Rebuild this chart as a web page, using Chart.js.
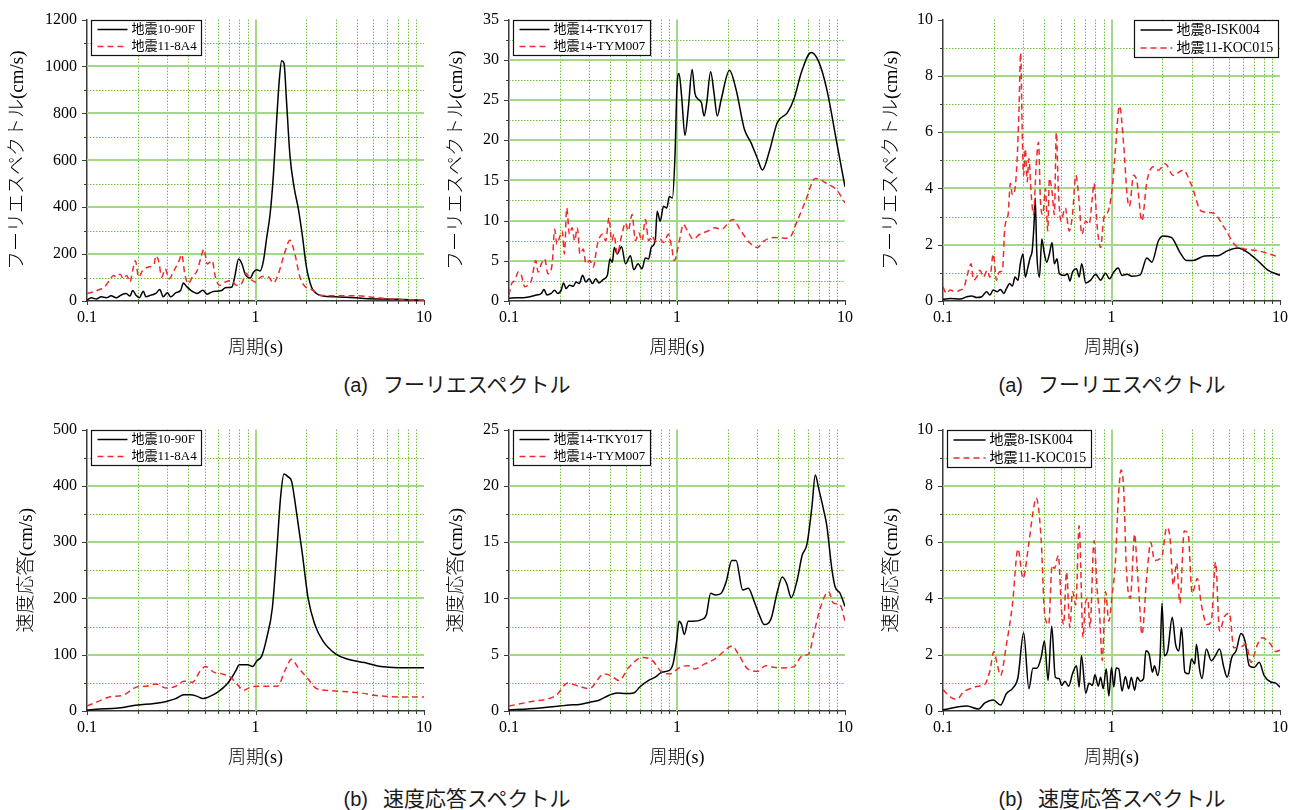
<!DOCTYPE html>
<html lang="ja">
<head>
<meta charset="utf-8">
<title>フーリエスペクトル・速度応答スペクトル</title>
<script src="https://cdn.jsdelivr.net/npm/chart.js@4.4.1/dist/chart.umd.min.js"></script>
<style>
  html, body { margin: 0; padding: 0; background: #fff; }
  #page { position: relative; width: 1301px; height: 810px; overflow: hidden; }
  canvas { position: absolute; }
  .caption {
    position: absolute;
    font-family: 'Noto Sans CJK JP', sans-serif;
    font-size: 21px;
    color: #1a1a1a;
    white-space: nowrap;
    transform: translate(-50%, -50%);
  }
  .caption span { font-family: 'Liberation Sans', sans-serif; font-size: 20px; margin-right: 15px; }
</style>
</head>
<body>
<div id="page">
  <canvas id="fas1" width="432" height="359" style="left:7px;top:0px"></canvas>
  <canvas id="fas2" width="414" height="359" style="left:446px;top:0px"></canvas>
  <canvas id="fas3" width="414" height="359" style="left:881px;top:0px"></canvas>
  <canvas id="sv1" width="423" height="359" style="left:16px;top:410px"></canvas>
  <canvas id="sv2" width="414" height="359" style="left:446px;top:410px"></canvas>
  <canvas id="sv3" width="414" height="359" style="left:881px;top:410px"></canvas>
  <div class="caption" style="left:457px;top:383px"><span>(a)</span>フーリエスペクトル</div>
  <div class="caption" style="left:1112px;top:383px"><span>(a)</span>フーリエスペクトル</div>
  <div class="caption" style="left:457px;top:797px"><span>(b)</span>速度応答スペクトル</div>
  <div class="caption" style="left:1112px;top:797px"><span>(b)</span>速度応答スペクトル</div>
</div>
<script>
// ---- period axis ----
const periodTicks = [0.1, 1, 10];
const minorPeriods = [0.2, 0.3, 0.4, 0.5, 0.6, 0.7, 0.8, 0.9, 2, 3, 4, 5, 6, 7, 8, 9];

// ---- Fourier spectra (cm/s) ----
const fasT_90F = [0.1,0.106,0.1135,0.1215,0.13,0.139,0.149,0.159,0.1705,0.18,0.1867,0.1953,0.2044,0.2158,0.2237,0.2395,0.2563,0.2705,0.283,0.3,0.314,0.336,0.36,0.373,0.389,0.412,0.451,0.487,0.517,0.553,0.592,0.633,0.662,0.725,0.752,0.794,0.831,0.869,0.93,0.973,1.018,1.065,1.115,1.166,1.22,1.277,1.336,1.385,1.43,1.476,1.53,1.601,1.698,1.792,1.892,2.007,2.148,2.299,2.516,3.0,4.43,6.96,10];
const fas_90F = [4,14,8,18,14,22,14,25,32,21,45,25,14,42,18,25,32,49,18,35,18,35,46,77,63,46,32,46,29,39,42,46,57,60,102,179,158,114,98,123,133,128,172,271,369,537,775,944,1025,1014,845,621,481,397,285,144,60,32,21,18,11,7,3];

const fasT_8A4 = [0.1,0.1085,0.1188,0.1271,0.136,0.1436,0.1503,0.1572,0.1645,0.172,0.18,0.1867,0.1936,0.2026,0.2138,0.2289,0.2395,0.2506,0.2563,0.2658,0.278,0.291,0.307,0.3286,0.352,0.3646,0.3816,0.399,0.4215,0.451,0.472,0.494,0.517,0.553,0.578,0.611,0.662,0.725,0.766,0.831,0.877,0.93,1.0,1.09,1.193,1.277,1.367,1.482,1.601,1.713,1.834,1.962,2.197,2.405,3.0,4.05,5.07,6.96,10];
const fas_8A4 = [32,39,49,60,88,109,102,114,95,109,81,130,172,102,130,144,147,158,193,172,102,137,95,130,172,198,109,74,102,130,179,221,158,172,102,67,81,88,67,77,119,95,81,105,102,77,116,200,259,200,102,63,46,25,22,22,15,7,3];

const fasT_TKY017 = [0.1,0.111,0.1215,0.133,0.1456,0.1558,0.1616,0.1683,0.1784,0.1867,0.1953,0.2044,0.211,0.2188,0.2289,0.2416,0.2506,0.262,0.2742,0.287,0.3,0.314,0.3286,0.3439,0.363,0.385,0.399,0.412,0.4234,0.441,0.4677,0.494,0.528,0.553,0.5865,0.619,0.648,0.678,0.703,0.742,0.762,0.794,0.831,0.869,0.901,0.939,0.973,1.0,1.028,1.065,1.115,1.166,1.231,1.277,1.336,1.398,1.449,1.503,1.586,1.66,1.737,1.834,2.053,2.247,2.516,2.755,3.015,3.227,3.533,3.956,4.532,4.961,5.554,6.277,6.963,7.797,8.932,10];
const fas_TKY017 = [0.33,0.4,0.4,0.53,0.74,0.94,1.43,0.74,0.94,1.35,0.94,1.35,2.25,1.55,1.96,1.84,2.37,2.17,3.19,2.37,2.78,2.17,2.78,2.25,2.66,3.19,5.23,4.82,6.66,5.85,6.75,4.62,5.64,3.88,4.62,4.0,5.36,5.23,6.66,7.48,11.16,9.93,11.77,11.57,13.0,12.8,18.1,26.7,28.3,25.5,20.6,23.8,28.8,25.9,25.1,24.65,23.0,24.65,28.5,25.9,23.0,25.1,28.7,26.3,21.4,19.7,17.7,16.3,18.5,22.2,23.4,25.1,28.7,30.9,29.8,26.3,19.7,14.2];

const fasT_TYM007 = [0.1,0.1037,0.1085,0.1135,0.1172,0.1243,0.13,0.136,0.1443,0.149,0.1558,0.163,0.1705,0.1808,0.1867,0.1927,0.1998,0.2072,0.2138,0.2207,0.2289,0.2373,0.246,0.2551,0.2645,0.2767,0.287,0.3029,0.317,0.336,0.36,0.3763,0.394,0.4083,0.4215,0.441,0.4677,0.494,0.512,0.5405,0.5655,0.592,0.619,0.648,0.678,0.709,0.742,0.794,0.831,0.889,0.93,0.964,1.009,1.042,1.09,1.156,1.248,1.367,1.53,1.675,1.834,2.148,2.405,2.694,3.015,3.301,3.781,4.634,5.19,5.81,6.656,7.797,8.932,10];
const fas_TYM007 = [0.74,2.17,2.58,3.6,3.48,1.76,1.96,2.58,5.03,3.6,4.62,5.23,3.39,4.62,8.91,7.07,7.89,8.71,5.85,11.57,8.3,9.12,7.48,9.12,5.85,6.46,4.62,5.03,4.21,7.07,8.3,7.48,10.34,7.48,8.3,5.85,8.1,9.73,8.71,10.75,7.48,8.5,7.48,10.14,7.48,8.1,7.48,7.69,7.28,8.3,6.66,5.03,6.46,7.89,9.53,8.71,7.69,8.3,8.71,9.12,8.91,10.14,8.71,7.28,6.66,7.48,7.89,7.81,9.93,12.4,15.25,14.6,13.8,12.2];

const fasT_ISK004 = [0.1,0.1104,0.1265,0.1384,0.1481,0.1585,0.1696,0.1815,0.1899,0.1986,0.2097,0.2194,0.2295,0.238,0.249,0.2581,0.2676,0.2787,0.2876,0.2982,0.3078,0.319,0.3294,0.3384,0.3477,0.3525,0.3605,0.3737,0.3857,0.3999,0.4128,0.428,0.4437,0.458,0.4748,0.49,0.5245,0.5486,0.5662,0.587,0.6197,0.6424,0.6661,0.7032,0.7524,0.8052,0.8615,0.922,0.973,1.032,1.094,1.155,1.237,1.323,1.481,1.621,1.735,1.899,2.032,2.275,2.546,2.787,3.05,3.573,4.28,4.9,5.61,6.424,7.356,8.425,10];
const fas_ISK004 = [0.06,0.09,0.07,0.15,0.18,0.12,0.15,0.33,0.21,0.39,0.33,0.41,0.27,0.44,0.62,0.53,0.85,0.74,1.32,1.67,0.85,1.2,1.55,1.79,2.84,3.66,1.67,0.85,2.2,1.67,1.38,1.67,2.08,1.32,1.5,0.97,0.91,0.97,0.71,1.03,1.15,0.85,1.32,0.64,0.74,0.95,0.74,0.99,0.79,1.03,1.17,0.91,0.95,0.88,0.93,1.53,1.38,2.14,2.31,2.25,1.73,1.44,1.44,1.6,1.61,1.79,1.88,1.73,1.44,1.11,0.91];

const fasT_KOC015 = [0.1,0.1046,0.1104,0.1182,0.1265,0.1335,0.1384,0.1468,0.1515,0.1585,0.1658,0.1735,0.1831,0.1899,0.1986,0.2078,0.2154,0.2254,0.2326,0.2434,0.2512,0.2581,0.2676,0.2749,0.2825,0.2889,0.2955,0.3009,0.3078,0.3162,0.3235,0.3339,0.3446,0.3572,0.3688,0.3788,0.3911,0.4054,0.4184,0.428,0.4437,0.458,0.4706,0.4835,0.5012,0.5314,0.5612,0.587,0.6141,0.6424,0.6661,0.7032,0.7356,0.7697,0.7873,0.8236,0.8615,0.9012,0.9559,1.009,1.056,1.115,1.182,1.237,1.276,1.353,1.416,1.515,1.621,1.774,1.899,2.078,2.326,2.664,2.982,3.415,3.999,4.684,5.362,6.141,7.356,10];
const fas_KOC015 = [0.5,0.27,0.39,0.33,0.39,0.5,0.85,1.32,0.74,0.85,1.09,0.85,1.09,0.85,1.67,0.74,1.03,1.09,2.6,3.07,4.18,3.77,4.0,4.94,6.81,8.82,5.88,4.47,5.41,4.24,5.06,3.77,3.07,4.82,5.64,3.54,3.07,4.0,2.49,4.36,3.89,3.07,5.99,4.0,2.84,3.31,2.49,3.07,4.47,3.54,2.37,2.84,2.72,3.66,4.18,2.6,1.9,2.96,3.19,4.0,5.41,6.93,5.53,3.77,3.36,4.47,4.24,2.84,4.24,4.77,4.65,4.88,4.47,4.65,4.12,3.19,3.13,2.6,2.02,1.85,1.79,1.55];

// ---- velocity response spectra (cm/s) ----
const svT_90F = [0.1,0.1188,0.149,0.1998,0.2506,0.3,0.336,0.3763,0.412,0.451,0.487,0.528,0.5998,0.678,0.725,0.766,0.801,0.85,0.901,0.96,1.018,1.09,1.166,1.259,1.336,1.41,1.476,1.565,1.638,1.753,1.892,2.053,2.247,2.516,3.0,3.533,4.43,5.554,6.96,10];
const sv_90F = [1.8,3.5,4.7,10.5,13.4,17.5,22,29,29,26,22,25,34,48,60,72,82,82,82,79,89,98,130,183,282,381,421,416,408,352,282,200,154,124,101,92,86,79,77,77];

const svT_8A4 = [0.1,0.1188,0.136,0.163,0.1998,0.2237,0.2563,0.2935,0.336,0.3763,0.4215,0.472,0.505,0.5655,0.633,0.709,0.776,0.85,0.951,1.09,1.22,1.354,1.496,1.638,1.792,2.053,2.299,2.818,3.533,4.234,5.07,6.96,10];
const sv_8A4 = [9,18,25,28,43,44,48,41,44,53,51,72,79,69,66,60,48,37,43,44,44,44,72,92,77,57,40,36,34,32,28,25,25];

const svT_TKY017 = [0.1,0.133,0.1998,0.2289,0.262,0.3,0.3439,0.394,0.441,0.494,0.553,0.5998,0.678,0.742,0.812,0.901,0.951,0.995,1.028,1.065,1.105,1.166,1.248,1.398,1.496,1.586,1.69,1.834,1.962,2.119,2.247,2.46,2.657,2.882,3.085,3.301,3.614,3.956,4.234,4.491,4.784,5.19,5.554,5.944,6.361,6.656,6.963,7.451,7.797,8.344,8.732,9.344,10];
const sv_TKY017 = [0.09,0.2,0.44,0.53,0.58,0.76,0.96,1.4,1.6,1.55,1.6,2.13,2.72,3.0,3.45,3.6,4.3,6.22,7.97,7.68,6.8,7.97,7.97,8.12,8.56,10.46,10.3,10.46,11.48,13.38,13.38,10.75,10.9,9.73,8.56,7.68,8.12,10.6,11.9,11.33,10.07,11.62,13.81,14.84,18.2,20.97,19.8,17.9,16.44,12.65,11.04,10.46,9.29];

const svT_TYM007 = [0.1,0.133,0.191,0.2237,0.2506,0.3,0.368,0.403,0.451,0.517,0.619,0.709,0.812,0.909,1.042,1.166,1.277,1.462,1.675,1.918,2.119,2.351,2.633,3.015,3.376,3.781,4.234,4.961,5.554,6.08,6.507,7.123,7.977,8.536,9.344,10];
const sv_TYM007 = [0.44,0.82,1.4,2.48,2.28,1.99,3.3,3.15,2.72,3.88,4.76,4.53,3.45,3.3,3.88,4.03,3.74,4.18,4.61,5.34,5.78,4.9,3.74,3.53,4.03,3.88,3.83,3.94,4.9,5.05,6.8,9.14,10.6,9.58,9.43,7.97];

const svT_ISK004 = [0.1,0.1384,0.1621,0.1774,0.1986,0.2194,0.238,0.2604,0.2787,0.3009,0.3235,0.3415,0.3605,0.3823,0.3999,0.4203,0.4418,0.4642,0.49,0.5057,0.5291,0.5563,0.587,0.6197,0.6424,0.6631,0.7032,0.7356,0.7697,0.798,0.8351,0.8615,0.8932,0.93,0.9645,1.0,1.032,1.065,1.104,1.155,1.209,1.265,1.311,1.372,1.422,1.481,1.549,1.599,1.673,1.751,1.799,1.882,1.942,1.995,2.059,2.154,2.295,2.401,2.512,2.604,2.725,2.876,2.982,3.12,3.191,3.339,3.446,3.653,3.911,4.128,4.377,4.642,4.857,5.172,5.486,5.87,6.197,6.57,7.032,7.524,8.052,8.812,9.43,10];
const sv_ISK004 = [0.04,0.18,0.07,0.29,0.39,0.21,0.62,0.82,1.2,2.78,0.79,1.52,1.52,1.9,2.49,1.09,3.01,1.2,1.15,0.91,1.06,0.88,1.32,1.61,0.85,1.96,0.64,0.99,0.91,1.29,0.88,1.2,0.79,1.5,0.53,1.55,0.85,1.53,1.5,0.71,1.23,0.79,1.2,0.74,1.2,1.06,1.15,2.14,2.02,1.38,1.61,1.26,1.9,3.83,1.96,2.14,3.33,2.37,2.14,2.96,1.38,1.32,1.85,1.67,2.37,1.44,1.15,2.2,1.79,1.96,2.2,1.55,1.2,1.9,2.14,2.75,2.49,1.61,1.55,1.73,1.26,1.03,0.99,0.85];

const svT_KOC015 = [0.1,0.1104,0.1209,0.1323,0.1448,0.1621,0.1774,0.1899,0.2004,0.2097,0.2194,0.238,0.2581,0.2787,0.2982,0.3235,0.3415,0.3572,0.3823,0.3999,0.4241,0.4437,0.458,0.4835,0.5057,0.5197,0.5412,0.5662,0.587,0.6141,0.6424,0.6784,0.6969,0.7225,0.7457,0.7873,0.8236,0.8499,0.8812,0.922,0.9645,1.009,1.056,1.094,1.14,1.182,1.225,1.293,1.372,1.416,1.461,1.515,1.621,1.711,1.799,1.986,2.126,2.224,2.326,2.434,2.546,2.701,2.851,3.009,3.235,3.415,3.704,3.911,4.147,4.377,4.684,5.012,5.314,5.87,6.281,6.723,7.356,7.873,8.812,9.43,10];
const sv_KOC015 = [0.76,0.5,0.41,0.68,0.79,0.88,0.95,1.44,2.11,1.67,1.26,2.37,3.77,5.76,4.71,5.99,7.04,7.57,6.11,3.54,3.07,5.18,5.06,5.53,3.54,3.07,4.94,2.96,4.24,3.77,6.58,2.6,3.77,4.0,2.96,6.05,4.24,3.42,1.79,4.24,3.19,4.12,5.35,7.39,8.56,7.86,5.06,4.0,6.29,5.18,4.0,2.72,4.82,5.99,5.35,5.47,6.52,6.17,4.47,5.26,3.83,6.4,6.29,4.18,4.71,3.77,3.07,3.19,5.29,2.84,3.36,3.48,2.25,2.28,2.37,1.73,2.37,2.6,2.37,2.11,2.16];

// ---- styles ----
const SERIF = "'Liberation Serif', 'Noto Sans CJK JP', serif";
const AXIS = '#3a3a3a';
const MAJOR = '#a2d985';
const MINOR = '#6cc03e';
const RED = '#f02a2a';

function pairs(ts, vs) {
  return ts.map((t, i) => ({ x: t, y: vs[i] }));
}

function strokeLine(ctx, x1, y1, x2, y2) {
  ctx.beginPath();
  ctx.moveTo(x1, y1);
  ctx.lineTo(x2, y2);
  ctx.stroke();
}

// green grid (solid at labelled values, dotted in between) plus the small tick marks
const gridLines = {
  id: 'gridLines',
  beforeDatasetsDraw(chart) {
    const { ctx, chartArea: a, scales: { x, y } } = chart;
    const step = y.options.ticks.stepSize;
    ctx.save();

    ctx.lineWidth = 1;
    ctx.strokeStyle = MINOR;
    ctx.setLineDash([1.5, 1.5]);
    minorPeriods.forEach(t => {
      const px = Math.round(x.getPixelForValue(t)) + 0.5;
      strokeLine(ctx, px, a.top, px, a.bottom);
    });
    for (let v = step / 2; v < y.max; v += step) {
      const py = Math.round(y.getPixelForValue(v)) + 0.5;
      strokeLine(ctx, a.left, py, a.right, py);
    }

    ctx.setLineDash([]);
    ctx.lineWidth = 2;
    ctx.strokeStyle = MAJOR;
    const p1 = Math.round(x.getPixelForValue(1));
    strokeLine(ctx, p1, a.top, p1, a.bottom);
    for (let v = step; v < y.max - step / 4; v += step) {
      const py = Math.round(y.getPixelForValue(v));
      strokeLine(ctx, a.left, py, a.right, py);
    }

    ctx.lineWidth = 1;
    ctx.strokeStyle = AXIS;
    for (let v = 0; v <= y.max + 1e-9; v += step / 2) {
      const py = Math.round(y.getPixelForValue(v)) + 0.5;
      const len = Math.abs(v / step - Math.round(v / step)) < 1e-6 ? 5 : 3;
      strokeLine(ctx, a.left - len, py, a.left, py);
    }
    periodTicks.concat(minorPeriods).forEach(t => {
      const px = Math.round(x.getPixelForValue(t)) + 0.5;
      const len = periodTicks.includes(t) ? 4 : 3;
      strokeLine(ctx, px, a.bottom, px, a.bottom + len);
    });
    ctx.restore();
  }
};

// framed legend sitting inside the plot area
const boxLegend = {
  id: 'boxLegend',
  afterDraw(chart, args, o) {
    const { ctx, chartArea: a } = chart;
    const sets = chart.data.datasets;
    ctx.save();
    ctx.font = o.size + 'px ' + SERIF;
    const textW = Math.max(...sets.map(d => ctx.measureText(d.label).width));
    const w = Math.round(6 + o.sample + 4 + textW + 5);
    const h = sets.length * o.row + 1;
    const bx = Math.round(o.align === 'right' ? a.right - 2 - w : a.left + 4) + 0.5;
    const by = Math.round(a.top) + 0.5;
    ctx.fillStyle = '#fff';
    ctx.fillRect(bx, by, w, h);
    ctx.strokeStyle = '#111';
    ctx.lineWidth = 1.2;
    ctx.strokeRect(bx, by, w, h);
    sets.forEach((d, i) => {
      const cy = by + o.row * (i + 0.5) + 0.5;
      ctx.strokeStyle = d.borderColor;
      ctx.lineWidth = d.borderWidth;
      ctx.setLineDash(d.borderDash || []);
      strokeLine(ctx, bx + 6, cy, bx + 6 + o.sample, cy);
      ctx.setLineDash([]);
      ctx.fillStyle = '#000';
      ctx.textBaseline = 'middle';
      ctx.fillText(d.label, bx + 6 + o.sample + 4, cy);
    });
    ctx.restore();
  }
};

function spectrum(id, p) {
  return new Chart(document.getElementById(id), {
    type: 'line',
    data: {
      datasets: [
        { label: p.names[0], data: pairs(p.black[0], p.black[1]), borderColor: '#000', borderWidth: 1.5, order: 1 },
        { label: p.names[1], data: pairs(p.red[0], p.red[1]), borderColor: RED, borderWidth: 1.5, borderDash: [6, 4], order: 0 }
      ]
    },
    options: {
      responsive: false,
      animation: false,
      devicePixelRatio: 1,
      layout: { padding: { left: 0, right: 12, top: 16, bottom: 0 } },
      elements: {
        point: { radius: 0 },
        line: { cubicInterpolationMode: 'monotone' }
      },
      plugins: {
        legend: { display: false },
        tooltip: { enabled: false },
        boxLegend: p.legend
      },
      scales: {
        x: {
          type: 'logarithmic',
          min: 0.1,
          max: 10,
          grid: { display: false, drawTicks: false },
          border: { display: true, color: AXIS, width: 1.5 },
          ticks: {
            color: '#000',
            font: { family: SERIF, size: 16 },
            padding: 7,
            maxRotation: 0,
            autoSkip: false,
            callback: v => String(v)
          },
          afterBuildTicks: s => { s.ticks = periodTicks.map(v => ({ value: v })); },
          afterFit: s => { s.height = 58; },
          title: { display: true, text: '周期(s)', color: '#000', font: { family: SERIF, size: 18, weight: 300 }, padding: 0 }
        },
        y: {
          type: 'linear',
          min: 0,
          max: p.yMax,
          grid: { display: false, drawTicks: false },
          border: { display: true, color: AXIS, width: 1.5 },
          ticks: {
            stepSize: p.yStep,
            color: '#000',
            font: { family: SERIF, size: 16 },
            padding: 10,
            callback: v => String(v)
          },
          afterFit: s => { s.width = p.yWidth; },
          title: { display: true, text: p.yTitle, color: '#000', font: { family: SERIF, size: 19, weight: 300 }, padding: 0 }
        }
      }
    },
    plugins: [gridLines, boxLegend]
  });
}

const legendLeft = { align: 'left', size: 13, row: 17, sample: 30 };
const legendLeftWide = { align: 'left', size: 14, row: 18, sample: 32 };
const legendRight = { align: 'right', size: 14, row: 18, sample: 32 };

spectrum('fas1', {
  names: ['地震10-90F', '地震11-8A4'], black: [fasT_90F, fas_90F], red: [fasT_8A4, fas_8A4],
  yMax: 1200, yStep: 200, yWidth: 80, yTitle: 'フーリエスペクトル(cm/s)', legend: legendLeft
});
spectrum('fas2', {
  names: ['地震14-TKY017', '地震14-TYM007'], black: [fasT_TKY017, fas_TKY017], red: [fasT_TYM007, fas_TYM007],
  yMax: 35, yStep: 5, yWidth: 63, yTitle: 'フーリエスペクトル(cm/s)', legend: legendLeft
});
spectrum('fas3', {
  names: ['地震8-ISK004', '地震11-KOC015'], black: [fasT_ISK004, fas_ISK004], red: [fasT_KOC015, fas_KOC015],
  yMax: 10, yStep: 2, yWidth: 62, yTitle: 'フーリエスペクトル(cm/s)', legend: legendRight
});
spectrum('sv1', {
  names: ['地震10-90F', '地震11-8A4'], black: [svT_90F, sv_90F], red: [svT_8A4, sv_8A4],
  yMax: 500, yStep: 100, yWidth: 71, yTitle: '速度応答(cm/s)', legend: legendLeft
});
spectrum('sv2', {
  names: ['地震14-TKY017', '地震14-TYM007'], black: [svT_TKY017, sv_TKY017], red: [svT_TYM007, sv_TYM007],
  yMax: 25, yStep: 5, yWidth: 63, yTitle: '速度応答(cm/s)', legend: legendLeft
});
spectrum('sv3', {
  names: ['地震8-ISK004', '地震11-KOC015'], black: [svT_ISK004, sv_ISK004], red: [svT_KOC015, sv_KOC015],
  yMax: 10, yStep: 2, yWidth: 62, yTitle: '速度応答(cm/s)', legend: legendLeftWide
});
</script>
</body>
</html>
